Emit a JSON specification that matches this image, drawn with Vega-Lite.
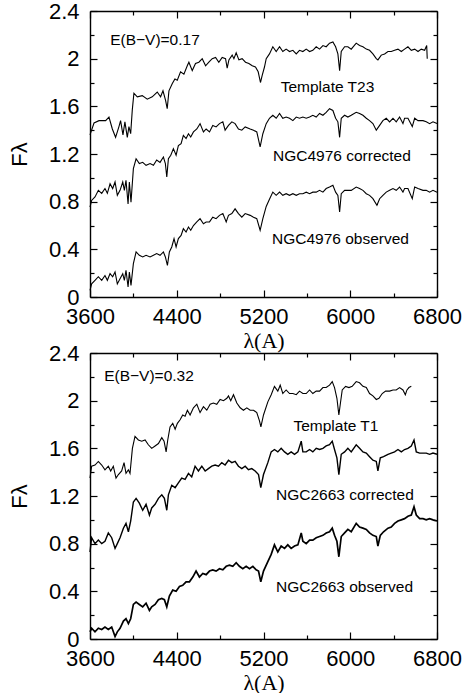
{
  "$schema": "https://vega.github.io/schema/vega-lite/v6.json",
  "padding": {"left": 8, "top": 0, "right": 0, "bottom": 0},
  "spacing": -9,
  "config": {
    "view": {"stroke": null},
    "axis": {"labelFont": "Liberation Sans", "labelFontSize": 22, "labelColor": "black", "titleFont": "Liberation Sans", "titleFontSize": 22, "titleFontWeight": "normal", "titleColor": "black", "tickColor": "black", "tickWidth": 1.2, "domain": true, "domainColor": "black", "domainWidth": 1.4, "grid": false, "labelOverlap": false, "labelFlush": false, "labelBound": false},
    "text": {"font": "Liberation Sans", "fontSize": 15.5, "color": "black"}
  },
  "datasets": {
    "a": [
      {"s":"T","w":3600,"f":1.36},{"s":"T","w":3637,"f":1.46},{"s":"T","w":3683,"f":1.48},{"s":"T","w":3744,"f":1.48},{"s":"T","w":3775,"f":1.51},{"s":"T","w":3806,"f":1.41},{"s":"T","w":3836,"f":1.34},{"s":"T","w":3867,"f":1.43},{"s":"T","w":3882,"f":1.48},{"s":"T","w":3904,"f":1.36},{"s":"T","w":3922,"f":1.47},{"s":"T","w":3944,"f":1.34},{"s":"T","w":3959,"f":1.43},{"s":"T","w":3975,"f":1.37},{"s":"T","w":3990,"f":1.57},{"s":"T","w":4005,"f":1.71},{"s":"T","w":4036,"f":1.68},{"s":"T","w":4082,"f":1.69},{"s":"T","w":4128,"f":1.66},{"s":"T","w":4174,"f":1.68},{"s":"T","w":4220,"f":1.72},{"s":"T","w":4251,"f":1.68},{"s":"T","w":4273,"f":1.73},{"s":"T","w":4297,"f":1.65},{"s":"T","w":4312,"f":1.58},{"s":"T","w":4328,"f":1.73},{"s":"T","w":4358,"f":1.79},{"s":"T","w":4383,"f":1.83},{"s":"T","w":4405,"f":1.82},{"s":"T","w":4435,"f":1.89},{"s":"T","w":4466,"f":1.87},{"s":"T","w":4497,"f":1.94},{"s":"T","w":4512,"f":1.97},{"s":"T","w":4543,"f":1.9},{"s":"T","w":4573,"f":1.96},{"s":"T","w":4604,"f":1.97},{"s":"T","w":4635,"f":2.0},{"s":"T","w":4666,"f":1.94},{"s":"T","w":4696,"f":1.97},{"s":"T","w":4727,"f":2.0},{"s":"T","w":4758,"f":2.01},{"s":"T","w":4788,"f":1.97},{"s":"T","w":4819,"f":2.01},{"s":"T","w":4850,"f":2.0},{"s":"T","w":4865,"f":1.92},{"s":"T","w":4881,"f":1.99},{"s":"T","w":4911,"f":2.03},{"s":"T","w":4927,"f":2.0},{"s":"T","w":4948,"f":2.05},{"s":"T","w":4973,"f":1.99},{"s":"T","w":5003,"f":2.0},{"s":"T","w":5034,"f":1.97},{"s":"T","w":5065,"f":1.96},{"s":"T","w":5096,"f":1.94},{"s":"T","w":5126,"f":1.93},{"s":"T","w":5151,"f":1.89},{"s":"T","w":5172,"f":1.8},{"s":"T","w":5188,"f":1.86},{"s":"T","w":5209,"f":1.93},{"s":"T","w":5225,"f":2.0},{"s":"T","w":5255,"f":2.04},{"s":"T","w":5286,"f":2.1},{"s":"T","w":5317,"f":2.06},{"s":"T","w":5348,"f":2.1},{"s":"T","w":5378,"f":2.06},{"s":"T","w":5409,"f":2.08},{"s":"T","w":5440,"f":2.06},{"s":"T","w":5471,"f":2.07},{"s":"T","w":5502,"f":2.04},{"s":"T","w":5532,"f":2.07},{"s":"T","w":5563,"f":2.06},{"s":"T","w":5594,"f":2.08},{"s":"T","w":5625,"f":2.06},{"s":"T","w":5655,"f":2.07},{"s":"T","w":5686,"f":2.1},{"s":"T","w":5717,"f":2.08},{"s":"T","w":5748,"f":2.11},{"s":"T","w":5778,"f":2.1},{"s":"T","w":5809,"f":2.13},{"s":"T","w":5840,"f":2.14},{"s":"T","w":5865,"f":2.1},{"s":"T","w":5886,"f":2.04},{"s":"T","w":5902,"f":1.9},{"s":"T","w":5917,"f":2.06},{"s":"T","w":5948,"f":2.1},{"s":"T","w":5978,"f":2.1},{"s":"T","w":6009,"f":2.08},{"s":"T","w":6055,"f":2.13},{"s":"T","w":6086,"f":2.11},{"s":"T","w":6117,"f":2.1},{"s":"T","w":6148,"f":2.08},{"s":"T","w":6178,"f":2.07},{"s":"T","w":6209,"f":2.04},{"s":"T","w":6240,"f":2.0},{"s":"T","w":6255,"f":1.99},{"s":"T","w":6286,"f":2.03},{"s":"T","w":6317,"f":2.04},{"s":"T","w":6348,"f":2.06},{"s":"T","w":6378,"f":2.06},{"s":"T","w":6409,"f":2.07},{"s":"T","w":6440,"f":2.08},{"s":"T","w":6471,"f":2.06},{"s":"T","w":6501,"f":2.08},{"s":"T","w":6532,"f":2.1},{"s":"T","w":6563,"f":2.07},{"s":"T","w":6594,"f":2.08},{"s":"T","w":6625,"f":2.06},{"s":"T","w":6655,"f":2.08},{"s":"T","w":6686,"f":2.07},{"s":"T","w":6705,"f":2.11},{"s":"T","w":6710,"f":2.0},
      {"s":"C","w":3600,"f":0.755},{"s":"C","w":3615,"f":0.81},{"s":"C","w":3646,"f":0.84},{"s":"C","w":3677,"f":0.895},{"s":"C","w":3708,"f":0.87},{"s":"C","w":3738,"f":0.91},{"s":"C","w":3760,"f":0.87},{"s":"C","w":3785,"f":0.95},{"s":"C","w":3809,"f":0.91},{"s":"C","w":3831,"f":0.965},{"s":"C","w":3852,"f":0.853},{"s":"C","w":3877,"f":0.895},{"s":"C","w":3902,"f":0.965},{"s":"C","w":3917,"f":0.895},{"s":"C","w":3932,"f":0.98},{"s":"C","w":3951,"f":0.78},{"s":"C","w":3963,"f":0.965},{"s":"C","w":3978,"f":0.795},{"s":"C","w":4000,"f":1.077},{"s":"C","w":4025,"f":1.16},{"s":"C","w":4055,"f":1.12},{"s":"C","w":4086,"f":1.13},{"s":"C","w":4117,"f":1.105},{"s":"C","w":4154,"f":1.12},{"s":"C","w":4185,"f":1.105},{"s":"C","w":4215,"f":1.15},{"s":"C","w":4246,"f":1.13},{"s":"C","w":4277,"f":1.175},{"s":"C","w":4295,"f":1.12},{"s":"C","w":4308,"f":1.007},{"s":"C","w":4323,"f":1.16},{"s":"C","w":4345,"f":1.19},{"s":"C","w":4369,"f":1.245},{"s":"C","w":4394,"f":1.19},{"s":"C","w":4415,"f":1.27},{"s":"C","w":4440,"f":1.287},{"s":"C","w":4461,"f":1.357},{"s":"C","w":4486,"f":1.33},{"s":"C","w":4508,"f":1.37},{"s":"C","w":4529,"f":1.343},{"s":"C","w":4554,"f":1.385},{"s":"C","w":4585,"f":1.41},{"s":"C","w":4615,"f":1.455},{"s":"C","w":4646,"f":1.385},{"s":"C","w":4671,"f":1.41},{"s":"C","w":4702,"f":1.385},{"s":"C","w":4732,"f":1.44},{"s":"C","w":4763,"f":1.427},{"s":"C","w":4794,"f":1.455},{"s":"C","w":4825,"f":1.47},{"s":"C","w":4846,"f":1.4},{"s":"C","w":4877,"f":1.44},{"s":"C","w":4908,"f":1.47},{"s":"C","w":4938,"f":1.455},{"s":"C","w":4969,"f":1.41},{"s":"C","w":5000,"f":1.4},{"s":"C","w":5031,"f":1.427},{"s":"C","w":5077,"f":1.41},{"s":"C","w":5108,"f":1.4},{"s":"C","w":5138,"f":1.385},{"s":"C","w":5169,"f":1.26},{"s":"C","w":5194,"f":1.37},{"s":"C","w":5225,"f":1.455},{"s":"C","w":5255,"f":1.5},{"s":"C","w":5286,"f":1.525},{"s":"C","w":5317,"f":1.5},{"s":"C","w":5348,"f":1.54},{"s":"C","w":5378,"f":1.5},{"s":"C","w":5409,"f":1.51},{"s":"C","w":5440,"f":1.5},{"s":"C","w":5471,"f":1.48},{"s":"C","w":5502,"f":1.51},{"s":"C","w":5532,"f":1.5},{"s":"C","w":5563,"f":1.51},{"s":"C","w":5594,"f":1.5},{"s":"C","w":5625,"f":1.51},{"s":"C","w":5655,"f":1.525},{"s":"C","w":5686,"f":1.51},{"s":"C","w":5717,"f":1.54},{"s":"C","w":5748,"f":1.525},{"s":"C","w":5778,"f":1.55},{"s":"C","w":5809,"f":1.58},{"s":"C","w":5840,"f":1.565},{"s":"C","w":5865,"f":1.5},{"s":"C","w":5886,"f":1.47},{"s":"C","w":5902,"f":1.34},{"s":"C","w":5917,"f":1.5},{"s":"C","w":5948,"f":1.525},{"s":"C","w":5978,"f":1.51},{"s":"C","w":6009,"f":1.525},{"s":"C","w":6055,"f":1.55},{"s":"C","w":6086,"f":1.54},{"s":"C","w":6117,"f":1.525},{"s":"C","w":6148,"f":1.5},{"s":"C","w":6178,"f":1.48},{"s":"C","w":6209,"f":1.455},{"s":"C","w":6240,"f":1.4},{"s":"C","w":6271,"f":1.44},{"s":"C","w":6301,"f":1.48},{"s":"C","w":6332,"f":1.5},{"s":"C","w":6363,"f":1.47},{"s":"C","w":6394,"f":1.5},{"s":"C","w":6424,"f":1.47},{"s":"C","w":6455,"f":1.51},{"s":"C","w":6486,"f":1.455},{"s":"C","w":6501,"f":1.5},{"s":"C","w":6532,"f":1.5},{"s":"C","w":6572,"f":1.43},{"s":"C","w":6594,"f":1.5},{"s":"C","w":6625,"f":1.48},{"s":"C","w":6671,"f":1.48},{"s":"C","w":6701,"f":1.47},{"s":"C","w":6732,"f":1.455},{"s":"C","w":6763,"f":1.47},{"s":"C","w":6800,"f":1.455},
      {"s":"O","w":3600,"f":0.056},{"s":"O","w":3615,"f":0.11},{"s":"O","w":3646,"f":0.14},{"s":"O","w":3677,"f":0.17},{"s":"O","w":3708,"f":0.14},{"s":"O","w":3738,"f":0.18},{"s":"O","w":3760,"f":0.14},{"s":"O","w":3785,"f":0.196},{"s":"O","w":3809,"f":0.17},{"s":"O","w":3831,"f":0.21},{"s":"O","w":3852,"f":0.11},{"s":"O","w":3877,"f":0.154},{"s":"O","w":3902,"f":0.196},{"s":"O","w":3917,"f":0.14},{"s":"O","w":3932,"f":0.224},{"s":"O","w":3951,"f":0.084},{"s":"O","w":3963,"f":0.21},{"s":"O","w":3978,"f":0.098},{"s":"O","w":4000,"f":0.28},{"s":"O","w":4025,"f":0.378},{"s":"O","w":4055,"f":0.35},{"s":"O","w":4086,"f":0.336},{"s":"O","w":4117,"f":0.35},{"s":"O","w":4154,"f":0.336},{"s":"O","w":4185,"f":0.35},{"s":"O","w":4215,"f":0.364},{"s":"O","w":4246,"f":0.35},{"s":"O","w":4277,"f":0.378},{"s":"O","w":4295,"f":0.336},{"s":"O","w":4314,"f":0.266},{"s":"O","w":4332,"f":0.378},{"s":"O","w":4354,"f":0.42},{"s":"O","w":4375,"f":0.49},{"s":"O","w":4394,"f":0.42},{"s":"O","w":4415,"f":0.49},{"s":"O","w":4440,"f":0.517},{"s":"O","w":4461,"f":0.573},{"s":"O","w":4486,"f":0.545},{"s":"O","w":4508,"f":0.587},{"s":"O","w":4529,"f":0.56},{"s":"O","w":4554,"f":0.6},{"s":"O","w":4585,"f":0.63},{"s":"O","w":4615,"f":0.657},{"s":"O","w":4646,"f":0.615},{"s":"O","w":4671,"f":0.63},{"s":"O","w":4702,"f":0.63},{"s":"O","w":4732,"f":0.67},{"s":"O","w":4763,"f":0.657},{"s":"O","w":4794,"f":0.685},{"s":"O","w":4825,"f":0.7},{"s":"O","w":4856,"f":0.63},{"s":"O","w":4877,"f":0.685},{"s":"O","w":4908,"f":0.7},{"s":"O","w":4938,"f":0.74},{"s":"O","w":4969,"f":0.7},{"s":"O","w":5000,"f":0.67},{"s":"O","w":5031,"f":0.7},{"s":"O","w":5077,"f":0.685},{"s":"O","w":5108,"f":0.67},{"s":"O","w":5138,"f":0.657},{"s":"O","w":5169,"f":0.56},{"s":"O","w":5194,"f":0.657},{"s":"O","w":5225,"f":0.76},{"s":"O","w":5255,"f":0.82},{"s":"O","w":5286,"f":0.88},{"s":"O","w":5317,"f":0.853},{"s":"O","w":5348,"f":0.88},{"s":"O","w":5378,"f":0.853},{"s":"O","w":5409,"f":0.867},{"s":"O","w":5440,"f":0.853},{"s":"O","w":5471,"f":0.867},{"s":"O","w":5502,"f":0.853},{"s":"O","w":5532,"f":0.867},{"s":"O","w":5563,"f":0.867},{"s":"O","w":5594,"f":0.88},{"s":"O","w":5625,"f":0.867},{"s":"O","w":5655,"f":0.88},{"s":"O","w":5686,"f":0.88},{"s":"O","w":5717,"f":0.895},{"s":"O","w":5748,"f":0.88},{"s":"O","w":5778,"f":0.91},{"s":"O","w":5809,"f":0.923},{"s":"O","w":5840,"f":0.937},{"s":"O","w":5865,"f":0.88},{"s":"O","w":5886,"f":0.853},{"s":"O","w":5902,"f":0.713},{"s":"O","w":5917,"f":0.867},{"s":"O","w":5948,"f":0.895},{"s":"O","w":5978,"f":0.895},{"s":"O","w":6009,"f":0.895},{"s":"O","w":6055,"f":0.923},{"s":"O","w":6086,"f":0.91},{"s":"O","w":6117,"f":0.895},{"s":"O","w":6148,"f":0.867},{"s":"O","w":6178,"f":0.853},{"s":"O","w":6209,"f":0.825},{"s":"O","w":6246,"f":0.77},{"s":"O","w":6271,"f":0.825},{"s":"O","w":6301,"f":0.853},{"s":"O","w":6332,"f":0.88},{"s":"O","w":6363,"f":0.895},{"s":"O","w":6394,"f":0.91},{"s":"O","w":6424,"f":0.895},{"s":"O","w":6455,"f":0.923},{"s":"O","w":6486,"f":0.88},{"s":"O","w":6501,"f":0.91},{"s":"O","w":6532,"f":0.91},{"s":"O","w":6572,"f":0.825},{"s":"O","w":6594,"f":0.923},{"s":"O","w":6625,"f":0.91},{"s":"O","w":6671,"f":0.895},{"s":"O","w":6701,"f":0.895},{"s":"O","w":6732,"f":0.88},{"s":"O","w":6763,"f":0.895},{"s":"O","w":6800,"f":0.88}
    ],
    "b": [
      {"s":"T","w":3600,"f":1.35},{"s":"T","w":3615,"f":1.45},{"s":"T","w":3646,"f":1.46},{"s":"T","w":3677,"f":1.49},{"s":"T","w":3708,"f":1.46},{"s":"T","w":3738,"f":1.42},{"s":"T","w":3769,"f":1.45},{"s":"T","w":3791,"f":1.41},{"s":"T","w":3815,"f":1.45},{"s":"T","w":3840,"f":1.35},{"s":"T","w":3862,"f":1.38},{"s":"T","w":3892,"f":1.41},{"s":"T","w":3914,"f":1.48},{"s":"T","w":3932,"f":1.39},{"s":"T","w":3954,"f":1.42},{"s":"T","w":3969,"f":1.39},{"s":"T","w":3991,"f":1.6},{"s":"T","w":4015,"f":1.7},{"s":"T","w":4046,"f":1.67},{"s":"T","w":4077,"f":1.66},{"s":"T","w":4108,"f":1.67},{"s":"T","w":4138,"f":1.63},{"s":"T","w":4169,"f":1.6},{"s":"T","w":4200,"f":1.62},{"s":"T","w":4231,"f":1.64},{"s":"T","w":4262,"f":1.69},{"s":"T","w":4283,"f":1.66},{"s":"T","w":4302,"f":1.57},{"s":"T","w":4317,"f":1.67},{"s":"T","w":4338,"f":1.78},{"s":"T","w":4363,"f":1.81},{"s":"T","w":4385,"f":1.76},{"s":"T","w":4406,"f":1.81},{"s":"T","w":4431,"f":1.84},{"s":"T","w":4455,"f":1.88},{"s":"T","w":4477,"f":1.87},{"s":"T","w":4498,"f":1.92},{"s":"T","w":4523,"f":1.88},{"s":"T","w":4554,"f":1.94},{"s":"T","w":4585,"f":1.97},{"s":"T","w":4615,"f":1.9},{"s":"T","w":4646,"f":1.95},{"s":"T","w":4677,"f":1.92},{"s":"T","w":4708,"f":1.97},{"s":"T","w":4738,"f":1.98},{"s":"T","w":4769,"f":1.97},{"s":"T","w":4800,"f":2.01},{"s":"T","w":4831,"f":2.0},{"s":"T","w":4862,"f":2.02},{"s":"T","w":4877,"f":2.04},{"s":"T","w":4898,"f":2.0},{"s":"T","w":4923,"f":2.05},{"s":"T","w":4954,"f":1.98},{"s":"T","w":4985,"f":1.94},{"s":"T","w":5015,"f":1.92},{"s":"T","w":5046,"f":1.94},{"s":"T","w":5077,"f":1.92},{"s":"T","w":5108,"f":1.92},{"s":"T","w":5138,"f":1.9},{"s":"T","w":5163,"f":1.83},{"s":"T","w":5176,"f":1.78},{"s":"T","w":5200,"f":1.88},{"s":"T","w":5240,"f":1.99},{"s":"T","w":5271,"f":2.05},{"s":"T","w":5301,"f":2.12},{"s":"T","w":5332,"f":2.08},{"s":"T","w":5354,"f":2.13},{"s":"T","w":5378,"f":2.06},{"s":"T","w":5409,"f":2.09},{"s":"T","w":5440,"f":2.06},{"s":"T","w":5471,"f":2.06},{"s":"T","w":5502,"f":2.05},{"s":"T","w":5532,"f":2.08},{"s":"T","w":5563,"f":2.06},{"s":"T","w":5594,"f":2.06},{"s":"T","w":5625,"f":2.09},{"s":"T","w":5655,"f":2.06},{"s":"T","w":5686,"f":2.08},{"s":"T","w":5717,"f":2.08},{"s":"T","w":5748,"f":2.11},{"s":"T","w":5778,"f":2.11},{"s":"T","w":5809,"f":2.13},{"s":"T","w":5834,"f":2.16},{"s":"T","w":5855,"f":2.11},{"s":"T","w":5877,"f":2.02},{"s":"T","w":5895,"f":1.88},{"s":"T","w":5908,"f":1.97},{"s":"T","w":5926,"f":2.09},{"s":"T","w":5957,"f":2.12},{"s":"T","w":5988,"f":2.11},{"s":"T","w":6018,"f":2.12},{"s":"T","w":6055,"f":2.16},{"s":"T","w":6086,"f":2.15},{"s":"T","w":6117,"f":2.12},{"s":"T","w":6148,"f":2.11},{"s":"T","w":6178,"f":2.06},{"s":"T","w":6209,"f":2.04},{"s":"T","w":6240,"f":2.01},{"s":"T","w":6265,"f":2.02},{"s":"T","w":6295,"f":2.06},{"s":"T","w":6326,"f":2.08},{"s":"T","w":6363,"f":2.08},{"s":"T","w":6394,"f":2.09},{"s":"T","w":6424,"f":2.09},{"s":"T","w":6455,"f":2.11},{"s":"T","w":6486,"f":2.09},{"s":"T","w":6508,"f":2.05},{"s":"T","w":6523,"f":2.09},{"s":"T","w":6541,"f":2.11},{"s":"T","w":6563,"f":2.12},
      {"s":"C","w":3600,"f":0.73},{"s":"C","w":3615,"f":0.85},{"s":"C","w":3646,"f":0.8},{"s":"C","w":3677,"f":0.83},{"s":"C","w":3708,"f":0.8},{"s":"C","w":3738,"f":0.82},{"s":"C","w":3769,"f":0.89},{"s":"C","w":3800,"f":0.85},{"s":"C","w":3831,"f":0.76},{"s":"C","w":3852,"f":0.8},{"s":"C","w":3877,"f":0.85},{"s":"C","w":3908,"f":0.93},{"s":"C","w":3932,"f":0.97},{"s":"C","w":3954,"f":0.9},{"s":"C","w":3975,"f":0.99},{"s":"C","w":4000,"f":1.15},{"s":"C","w":4025,"f":1.18},{"s":"C","w":4055,"f":1.14},{"s":"C","w":4086,"f":1.08},{"s":"C","w":4117,"f":1.13},{"s":"C","w":4148,"f":1.04},{"s":"C","w":4169,"f":1.1},{"s":"C","w":4200,"f":1.13},{"s":"C","w":4231,"f":1.18},{"s":"C","w":4262,"f":1.21},{"s":"C","w":4286,"f":1.18},{"s":"C","w":4308,"f":1.08},{"s":"C","w":4323,"f":1.21},{"s":"C","w":4354,"f":1.29},{"s":"C","w":4385,"f":1.27},{"s":"C","w":4415,"f":1.31},{"s":"C","w":4446,"f":1.35},{"s":"C","w":4477,"f":1.34},{"s":"C","w":4508,"f":1.39},{"s":"C","w":4538,"f":1.36},{"s":"C","w":4569,"f":1.45},{"s":"C","w":4600,"f":1.41},{"s":"C","w":4631,"f":1.45},{"s":"C","w":4662,"f":1.41},{"s":"C","w":4692,"f":1.43},{"s":"C","w":4723,"f":1.45},{"s":"C","w":4754,"f":1.46},{"s":"C","w":4785,"f":1.45},{"s":"C","w":4815,"f":1.48},{"s":"C","w":4846,"f":1.46},{"s":"C","w":4877,"f":1.5},{"s":"C","w":4908,"f":1.48},{"s":"C","w":4938,"f":1.49},{"s":"C","w":4969,"f":1.45},{"s":"C","w":5000,"f":1.43},{"s":"C","w":5031,"f":1.45},{"s":"C","w":5061,"f":1.42},{"s":"C","w":5092,"f":1.43},{"s":"C","w":5123,"f":1.41},{"s":"C","w":5154,"f":1.38},{"s":"C","w":5175,"f":1.27},{"s":"C","w":5200,"f":1.38},{"s":"C","w":5240,"f":1.48},{"s":"C","w":5271,"f":1.57},{"s":"C","w":5301,"f":1.59},{"s":"C","w":5332,"f":1.57},{"s":"C","w":5363,"f":1.6},{"s":"C","w":5394,"f":1.57},{"s":"C","w":5424,"f":1.55},{"s":"C","w":5455,"f":1.57},{"s":"C","w":5486,"f":1.55},{"s":"C","w":5517,"f":1.57},{"s":"C","w":5548,"f":1.66},{"s":"C","w":5563,"f":1.57},{"s":"C","w":5594,"f":1.57},{"s":"C","w":5625,"f":1.59},{"s":"C","w":5655,"f":1.57},{"s":"C","w":5686,"f":1.6},{"s":"C","w":5717,"f":1.59},{"s":"C","w":5748,"f":1.6},{"s":"C","w":5778,"f":1.62},{"s":"C","w":5809,"f":1.63},{"s":"C","w":5834,"f":1.66},{"s":"C","w":5855,"f":1.59},{"s":"C","w":5877,"f":1.52},{"s":"C","w":5895,"f":1.38},{"s":"C","w":5917,"f":1.55},{"s":"C","w":5948,"f":1.57},{"s":"C","w":5978,"f":1.6},{"s":"C","w":6009,"f":1.57},{"s":"C","w":6055,"f":1.63},{"s":"C","w":6086,"f":1.6},{"s":"C","w":6117,"f":1.57},{"s":"C","w":6148,"f":1.56},{"s":"C","w":6178,"f":1.53},{"s":"C","w":6209,"f":1.5},{"s":"C","w":6240,"f":1.49},{"s":"C","w":6255,"f":1.41},{"s":"C","w":6277,"f":1.52},{"s":"C","w":6307,"f":1.53},{"s":"C","w":6348,"f":1.55},{"s":"C","w":6378,"f":1.56},{"s":"C","w":6409,"f":1.57},{"s":"C","w":6440,"f":1.59},{"s":"C","w":6471,"f":1.57},{"s":"C","w":6501,"f":1.59},{"s":"C","w":6532,"f":1.6},{"s":"C","w":6563,"f":1.62},{"s":"C","w":6588,"f":1.67},{"s":"C","w":6609,"f":1.57},{"s":"C","w":6640,"f":1.56},{"s":"C","w":6671,"f":1.56},{"s":"C","w":6701,"f":1.56},{"s":"C","w":6732,"f":1.55},{"s":"C","w":6763,"f":1.56},{"s":"C","w":6800,"f":1.55},
      {"s":"O","w":3600,"f":0.06},{"s":"O","w":3615,"f":0.09},{"s":"O","w":3646,"f":0.06},{"s":"O","w":3677,"f":0.09},{"s":"O","w":3708,"f":0.08},{"s":"O","w":3738,"f":0.1},{"s":"O","w":3769,"f":0.08},{"s":"O","w":3800,"f":0.1},{"s":"O","w":3831,"f":0.02},{"s":"O","w":3852,"f":0.06},{"s":"O","w":3877,"f":0.09},{"s":"O","w":3908,"f":0.15},{"s":"O","w":3932,"f":0.17},{"s":"O","w":3954,"f":0.13},{"s":"O","w":3975,"f":0.17},{"s":"O","w":4000,"f":0.29},{"s":"O","w":4025,"f":0.31},{"s":"O","w":4055,"f":0.29},{"s":"O","w":4086,"f":0.27},{"s":"O","w":4117,"f":0.3},{"s":"O","w":4148,"f":0.24},{"s":"O","w":4169,"f":0.27},{"s":"O","w":4200,"f":0.29},{"s":"O","w":4231,"f":0.33},{"s":"O","w":4262,"f":0.34},{"s":"O","w":4286,"f":0.33},{"s":"O","w":4308,"f":0.27},{"s":"O","w":4332,"f":0.36},{"s":"O","w":4363,"f":0.41},{"s":"O","w":4394,"f":0.4},{"s":"O","w":4425,"f":0.44},{"s":"O","w":4455,"f":0.45},{"s":"O","w":4486,"f":0.48},{"s":"O","w":4517,"f":0.48},{"s":"O","w":4548,"f":0.52},{"s":"O","w":4578,"f":0.57},{"s":"O","w":4609,"f":0.52},{"s":"O","w":4640,"f":0.55},{"s":"O","w":4671,"f":0.54},{"s":"O","w":4702,"f":0.57},{"s":"O","w":4732,"f":0.58},{"s":"O","w":4763,"f":0.57},{"s":"O","w":4794,"f":0.59},{"s":"O","w":4825,"f":0.58},{"s":"O","w":4856,"f":0.61},{"s":"O","w":4886,"f":0.62},{"s":"O","w":4917,"f":0.61},{"s":"O","w":4948,"f":0.64},{"s":"O","w":4978,"f":0.61},{"s":"O","w":5009,"f":0.59},{"s":"O","w":5040,"f":0.61},{"s":"O","w":5071,"f":0.59},{"s":"O","w":5102,"f":0.61},{"s":"O","w":5132,"f":0.58},{"s":"O","w":5154,"f":0.57},{"s":"O","w":5175,"f":0.48},{"s":"O","w":5200,"f":0.57},{"s":"O","w":5240,"f":0.65},{"s":"O","w":5271,"f":0.71},{"s":"O","w":5301,"f":0.79},{"s":"O","w":5332,"f":0.73},{"s":"O","w":5363,"f":0.78},{"s":"O","w":5394,"f":0.76},{"s":"O","w":5424,"f":0.79},{"s":"O","w":5455,"f":0.76},{"s":"O","w":5486,"f":0.78},{"s":"O","w":5517,"f":0.79},{"s":"O","w":5548,"f":0.89},{"s":"O","w":5563,"f":0.82},{"s":"O","w":5594,"f":0.8},{"s":"O","w":5625,"f":0.83},{"s":"O","w":5655,"f":0.83},{"s":"O","w":5686,"f":0.85},{"s":"O","w":5717,"f":0.86},{"s":"O","w":5748,"f":0.87},{"s":"O","w":5778,"f":0.89},{"s":"O","w":5809,"f":0.9},{"s":"O","w":5834,"f":0.93},{"s":"O","w":5855,"f":0.87},{"s":"O","w":5877,"f":0.82},{"s":"O","w":5895,"f":0.69},{"s":"O","w":5917,"f":0.86},{"s":"O","w":5948,"f":0.89},{"s":"O","w":5978,"f":0.92},{"s":"O","w":6009,"f":0.9},{"s":"O","w":6055,"f":0.97},{"s":"O","w":6086,"f":0.94},{"s":"O","w":6117,"f":0.93},{"s":"O","w":6148,"f":0.92},{"s":"O","w":6178,"f":0.89},{"s":"O","w":6209,"f":0.87},{"s":"O","w":6240,"f":0.86},{"s":"O","w":6255,"f":0.78},{"s":"O","w":6277,"f":0.87},{"s":"O","w":6307,"f":0.9},{"s":"O","w":6348,"f":0.93},{"s":"O","w":6378,"f":0.94},{"s":"O","w":6409,"f":0.97},{"s":"O","w":6440,"f":0.99},{"s":"O","w":6471,"f":1.0},{"s":"O","w":6501,"f":1.01},{"s":"O","w":6532,"f":1.03},{"s":"O","w":6563,"f":1.04},{"s":"O","w":6588,"f":1.11},{"s":"O","w":6609,"f":1.04},{"s":"O","w":6640,"f":1.01},{"s":"O","w":6671,"f":1.01},{"s":"O","w":6701,"f":1.0},{"s":"O","w":6732,"f":1.01},{"s":"O","w":6763,"f":1.0},{"s":"O","w":6800,"f":0.99}
    ],
    "la": [
      {"t":"E(B−V)=0.17","w":4199,"f":2.155},
      {"t":"Template T23","w":5790,"f":1.76},
      {"t":"NGC4976 corrected","w":5923,"f":1.18},
      {"t":"NGC4976 observed","w":5910,"f":0.49}
    ],
    "lb": [
      {"t":"E(B−V)=0.32","w":4144,"f":2.21},
      {"t":"Template T1","w":5868,"f":1.79},
      {"t":"NGC2663 corrected","w":5951,"f":1.21},
      {"t":"NGC2663 observed","w":5947,"f":0.44}
    ]
  },
  "vconcat": [
    {
      "width": 347, "height": 286,
      "layer": [
        {
          "data": {"name": "a"},
          "mark": {"type": "line", "color": "black", "strokeWidth": 1.1},
          "encoding": {
            "x": {"field": "w", "type": "quantitative", "scale": {"domain": [3600, 6800], "nice": false, "zero": false},
                  "axis": {"orient": "bottom", "tickSize": {"condition": {"test": "(datum.value - 3600) % 800 == 0", "value": -7}, "value": -4}, "values": [3600,4000,4400,4800,5200,5600,6000,6400,6800], "format": "d", "labelExpr": "(datum.value - 3600) % 800 == 0 ? datum.label : ''", "labelPadding": 16, "title": "λ(A)", "titleFont": "Liberation Serif", "titleFontSize": 22, "titlePadding": 0}},
            "y": {"field": "f", "type": "quantitative", "scale": {"domain": [0, 2.4], "nice": false},
                  "axis": {"orient": "left", "tickSize": {"condition": {"test": "round(datum.value*10) % 4 == 0", "value": -7}, "value": -4}, "values": [0,0.2,0.4,0.6,0.8,1,1.2,1.4,1.6,1.8,2,2.2,2.4], "format": "~g", "labelExpr": "round(datum.value*10) % 4 == 0 ? datum.label : ''", "labelPadding": 18, "title": "Fλ", "titlePadding": 17}},
            "detail": {"field": "s"}
          }
        },
        {
          "data": {"name": "la"},
          "mark": {"type": "text", "align": "center", "baseline": "middle"},
          "encoding": {
            "x": {"field": "w", "type": "quantitative", "axis": {"orient": "top", "tickSize": {"condition": {"test": "(datum.value - 3600) % 800 == 0", "value": -7}, "value": -4}, "values": [3600,4000,4400,4800,5200,5600,6000,6400,6800], "labels": false, "title": null}},
            "y": {"field": "f", "type": "quantitative", "axis": {"orient": "right", "tickSize": {"condition": {"test": "round(datum.value*10) % 4 == 0", "value": -7}, "value": -4}, "values": [0,0.2,0.4,0.6,0.8,1,1.2,1.4,1.6,1.8,2,2.2,2.4], "labels": false, "title": null}},
            "text": {"field": "t"}
          }
        }
      ],
      "resolve": {"axis": {"x": "independent", "y": "independent"}}
    },
    {
      "width": 347, "height": 286,
      "layer": [
        {
          "data": {"name": "b"},
          "mark": {"type": "line", "color": "black"},
          "encoding": {
            "x": {"field": "w", "type": "quantitative", "scale": {"domain": [3600, 6800], "nice": false, "zero": false},
                  "axis": {"orient": "bottom", "tickSize": {"condition": {"test": "(datum.value - 3600) % 800 == 0", "value": -7}, "value": -4}, "values": [3600,4000,4400,4800,5200,5600,6000,6400,6800], "format": "d", "labelExpr": "(datum.value - 3600) % 800 == 0 ? datum.label : ''", "labelPadding": 16, "title": "λ(A)", "titleFont": "Liberation Serif", "titleFontSize": 22, "titlePadding": 0}},
            "y": {"field": "f", "type": "quantitative", "scale": {"domain": [0, 2.4], "nice": false},
                  "axis": {"orient": "left", "tickSize": {"condition": {"test": "round(datum.value*10) % 4 == 0", "value": -7}, "value": -4}, "values": [0,0.2,0.4,0.6,0.8,1,1.2,1.4,1.6,1.8,2,2.2,2.4], "format": "~g", "labelExpr": "round(datum.value*10) % 4 == 0 ? datum.label : ''", "labelPadding": 18, "title": "Fλ", "titlePadding": 17}},
            "detail": {"field": "s"},
            "strokeWidth": {"field": "s", "type": "nominal", "scale": {"domain": ["T", "C", "O"], "range": [1.1, 1.7, 1.7]}, "legend": null}
          }
        },
        {
          "data": {"name": "lb"},
          "mark": {"type": "text", "align": "center", "baseline": "middle"},
          "encoding": {
            "x": {"field": "w", "type": "quantitative", "axis": {"orient": "top", "tickSize": {"condition": {"test": "(datum.value - 3600) % 800 == 0", "value": -7}, "value": -4}, "values": [3600,4000,4400,4800,5200,5600,6000,6400,6800], "labels": false, "title": null}},
            "y": {"field": "f", "type": "quantitative", "axis": {"orient": "right", "tickSize": {"condition": {"test": "round(datum.value*10) % 4 == 0", "value": -7}, "value": -4}, "values": [0,0.2,0.4,0.6,0.8,1,1.2,1.4,1.6,1.8,2,2.2,2.4], "labels": false, "title": null}},
            "text": {"field": "t"}
          }
        }
      ],
      "resolve": {"axis": {"x": "independent", "y": "independent"}}
    }
  ]
}
